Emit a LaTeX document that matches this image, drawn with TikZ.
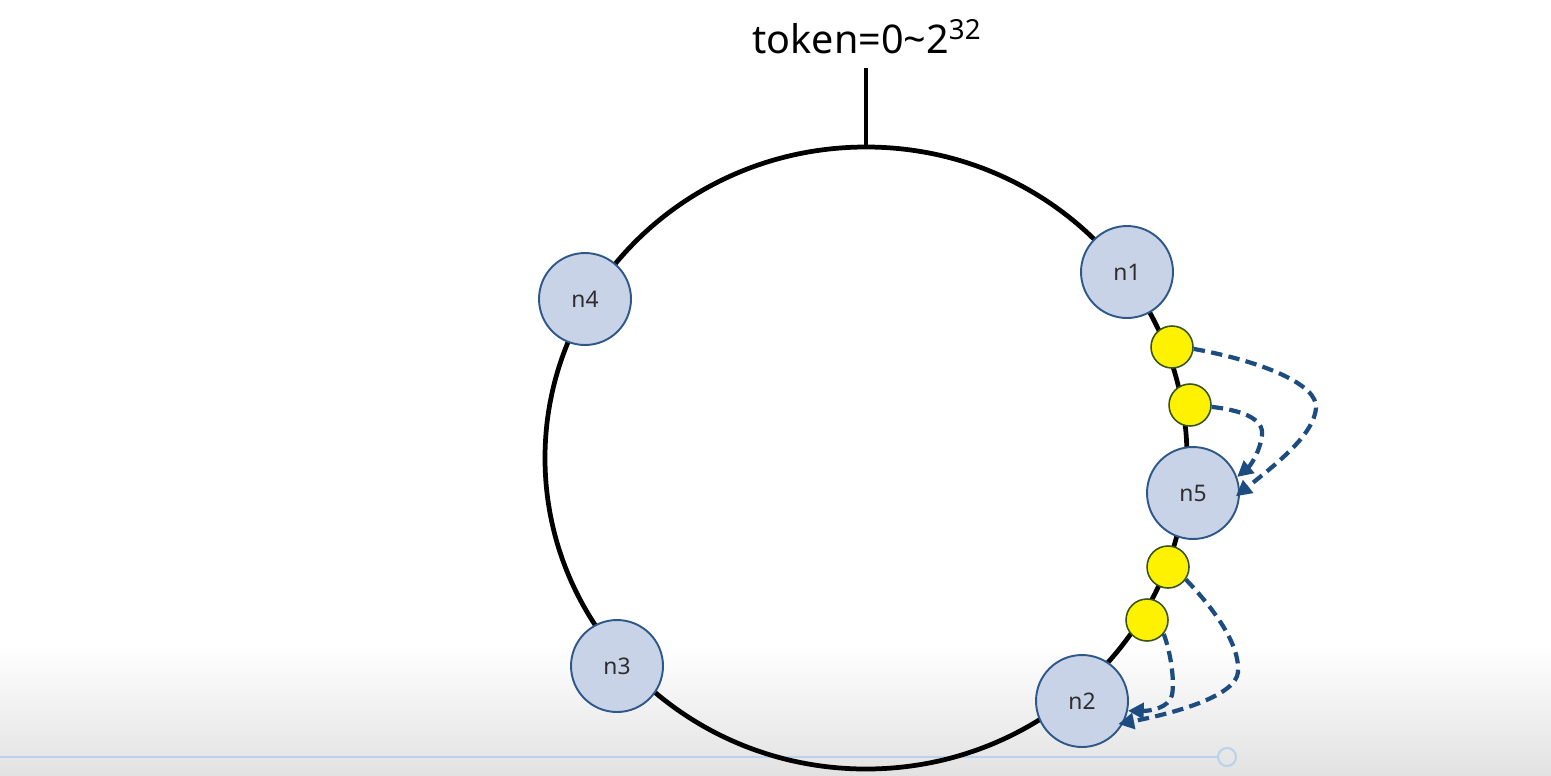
\documentclass[tikz,border=0pt]{standalone}
\usepackage{fontspec}
\setmainfont{Noto Sans}
\usetikzlibrary{arrows.meta}
\definecolor{nodefill}{RGB}{201,211,231}
\definecolor{nodeline}{RGB}{46,88,138}
\definecolor{dashblue}{RGB}{28,76,128}
\definecolor{yelline}{RGB}{55,85,28}
\definecolor{bargray}{RGB}{226,226,226}
\definecolor{barblue}{RGB}{184,212,236}
\definecolor{labeltext}{RGB}{45,45,45}
\tikzset{
  ringline/.style={line width=2.7pt, black},
  server/.style={circle, inner sep=0pt, minimum size=1.84cm, fill=nodefill, draw=nodeline, line width=1.1pt, font=\fontsize{13}{15}\selectfont, text=labeltext},
  keydot/.style={circle, inner sep=0pt, minimum size=0.84cm, fill=yellow, draw=yelline, line width=0.9pt},
  movearrow/.style={draw=dashblue, line width=2.4pt, dash pattern=on 6.5pt off 3.6pt, -{Triangle[length=9pt,width=9pt]}},
}
\begin{document}
\begin{tikzpicture}[x=0.02cm, y=-0.02cm]
\useasboundingbox (0,0) rectangle (1551,775);
% bottom overlay of the video player
\shade[top color=white, bottom color=bargray] (0,645) rectangle (1551,775);
\draw[barblue, line width=1.2pt] (0,757) -- (1218,757);
\draw[barblue, line width=1.2pt] (1227,757) circle [radius=9];
% title
\node[anchor=base, font=\fontsize{22.5}{26}\selectfont, inner sep=0pt] (title) at (867,53) {token=0\char"7E 2\textsuperscript{32}};
\coordinate (tick) at (866,68);
\coordinate (ringtop) at (866,147);
\draw[line width=2.8pt] (tick) -- (ringtop);
% ring
\draw[ringline] (866,458) ellipse [x radius=321, y radius=311];
% servers
\node[server] (n1) at (1127,272) {n1};
\node[server] (n4) at (585,299) {n4};
\node[server] (n5) at (1193,493) {n5};
\node[server] (n3) at (617,666) {n3};
\node[server] (n2) at (1082,701) {n2};
% keys
\node[keydot] (k1) at (1172,347) {};
\node[keydot] (k2) at (1190,405) {};
\node[keydot] (k3) at (1168,567) {};
\node[keydot] (k4) at (1147,620) {};
% moved keys
\draw[movearrow, shorten >=-3pt] (k1.-5) .. controls (1265,362) and (1318,385) .. (1316,408) .. controls (1314,435) and (1275,465) .. (n5.east);
\draw[movearrow] (k2.-5) .. controls (1240,410) and (1264,418) .. (1262,435) .. controls (1260,452) and (1250,466) .. (n5.20);
\draw[movearrow, shorten >=-3pt] (k3.-35) .. controls (1215,610) and (1240,645) .. (1238,672) .. controls (1236,695) and (1180,712) .. (n2.-28);
\draw[movearrow] (k4.-40) .. controls (1170,650) and (1175,680) .. (1172,695) .. controls (1169,708) and (1150,711) .. (n2.-12);
\end{tikzpicture}
\end{document}
